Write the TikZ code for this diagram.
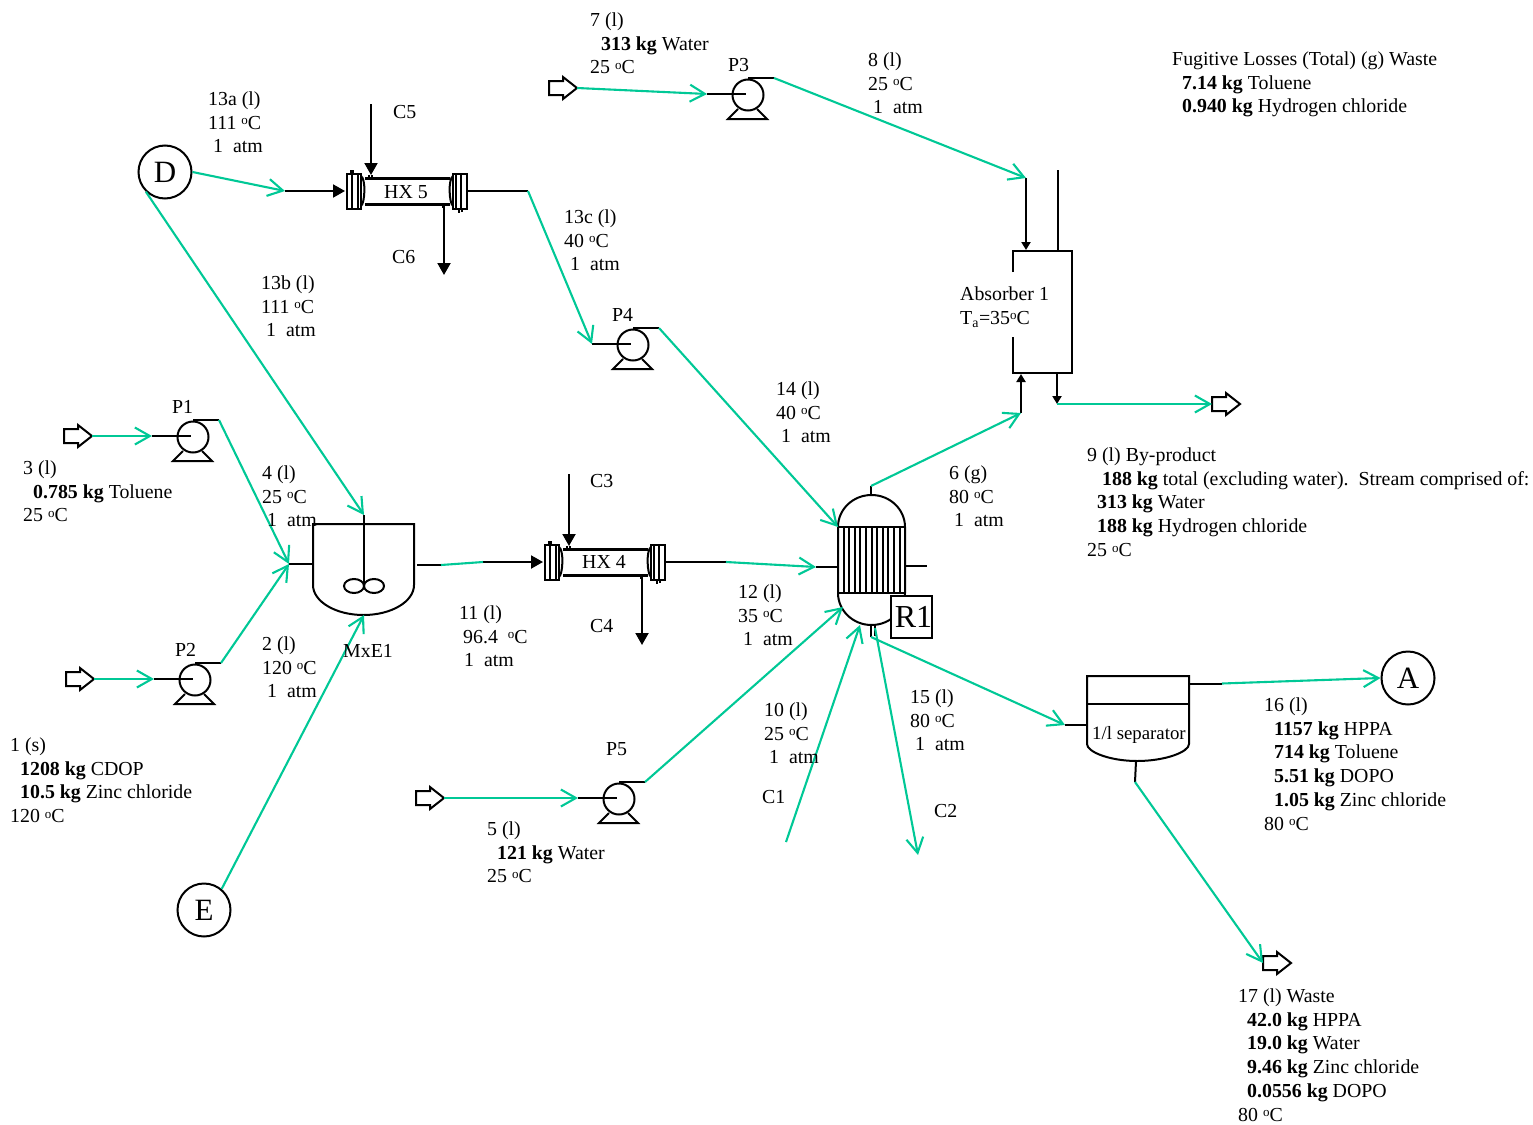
\documentclass[tikz,border=0pt]{standalone}
\usepackage{fontspec}
\setmainfont{Liberation Serif}
\usetikzlibrary{arrows.meta}
\definecolor{strm}{RGB}{0,200,150}
\newcommand{\dgc}{\raisebox{.5ex}{\fontsize{13}{13}\selectfont o}C}
\newcommand{\ind}[1]{\hspace*{#1pt}}
\newcommand{\atm}{1\ \ atm}
\tikzset{
  x=1pt,y=-1pt,
  txt/.style={anchor=north west,inner sep=0pt,align=left,font=\fontsize{19.85}{23.8}\selectfont,yshift=10.5pt},
  eq/.style={line width=2pt,black},
  thin eq/.style={line width=1.2pt,black},
  feed/.style={line width=2.1pt,strm,-{Straight Barb[length=15pt,width=17pt,line width=2.1pt]}},
  plain/.style={line width=2.1pt,strm},
  solid arrow/.style={line width=2pt,black,-{Triangle[length=12pt,width=13pt]}},
  small arrow/.style={line width=2pt,black,-{Triangle[length=8pt,width=9pt]}},
  ball/.style={circle,draw,line width=2pt,minimum size=53pt,inner sep=0pt,font=\fontsize{31}{31}\selectfont},
  pics/pump/.style={code={
    \coordinate (-in) at (0,0);
    \coordinate (-out) at (67,-16);
    \draw[eq] (41,1) circle (15.5);
    \draw[eq] (0,0) -- (39,0);
    \draw[eq] (41,-16) -- (67,-16);
    \draw[eq] (31,15) -- (21,25) -- (60,25) -- (50,15);
  }},
  pics/hollow/.style={code={
    \coordinate (-tip) at (0,0);
    \coordinate (-tail) at (-28,0);
    \draw[eq,fill=white] (-28,-7) -- (-14,-7) -- (-14,-11) -- (0,0) -- (-14,11) -- (-14,7) -- (-28,7) -- cycle;
  }},
  pics/hx/.style={code={
    \coordinate (-in) at (-2,0);
    \coordinate (-out) at (120,0);
    \draw[line width=2.2pt] (18,-12.5) -- (103,-12.5) (18,13.5) -- (103,13.5);
    \draw[eq] (0,-17) rectangle (14,18);
    \draw[eq] (5,-17) -- (5,18);
    \draw[eq] (11,-17) -- (11,18);
    \draw[eq] (14,-15) .. controls (19,-12) and (18,12) .. (14,15);
    \draw[eq] (106,-17) rectangle (120,18);
    \draw[eq] (109,-17) -- (109,18);
    \draw[eq] (114,-17) -- (114,18);
    \draw[eq] (106,-15) .. controls (101,-12) and (102,12) .. (106,15);
    \draw[thin eq] (4,-17) -- (4,-21) (6,-17) -- (6,-21);
    \draw[thin eq] (22,-13) -- (22,-16) (25,-13) -- (25,-16);
    \draw[thin eq] (96,14) -- (96,17);
    \draw[thin eq] (112,18) -- (112,22) (115,18) -- (115,21);
  }},
}
\newcommand{\tx}[4]{\node[txt] (#1) at (#2,#3) {\strut #4};}
\begin{document}
\begin{tikzpicture}
\useasboundingbox (0,0) rectangle (1533,1124);

% ---------- equipment ----------
\pic (P1) at (152,436) {pump};
\pic (P2) at (154,679) {pump};
\pic (P3) at (707,94) {pump};
\pic (P4) at (592,344) {pump};
\pic (P5) at (578,798) {pump};

\pic (H3) at (92,436) {hollow};
\pic (H2) at (94,679) {hollow};
\pic (H7) at (577,88) {hollow};
\pic (H5) at (444,798) {hollow};
\pic (H9) at (1240,404) {hollow};
\pic (H17) at (1291,963) {hollow};

\pic (HXf) at (347,191) {hx};
\pic (HXd) at (545,562) {hx};

% mixer
\coordinate (mxin) at (289,564);
\coordinate (mxinb) at (313,564);
\coordinate (mxoutb) at (417,565);
\coordinate (mxout) at (441,565);
\coordinate (mxtop) at (364,515);
\coordinate (mxbot) at (364,615);
\draw[eq] (313,524) -- (414,524) -- (414,585) arc[start angle=0,end angle=-180,x radius=50.5,y radius=-30] -- cycle;
\draw[eq] (mxtop) -- (364,586);
\draw[eq] (354,586) ellipse (10 and 7);
\draw[eq] (374,586) ellipse (10 and 7);
\draw[eq] (mxin) -- (mxinb);
\draw[eq] (mxoutb) -- (mxout);

% reactor
\coordinate (rtop) at (871,486);
\coordinate (rleft) at (816,567);
\coordinate (rshoulder) at (838,527);
\coordinate (rlow) at (843,607);
\coordinate (rbot) at (860,625);
\coordinate (rs1) at (871,637);
\coordinate (rs2) at (875,628);
\draw[eq] (838,527) arc[start angle=180,end angle=0,x radius=33.5,y radius=-32] -- (905,593) arc[start angle=0,end angle=-180,x radius=33.5,y radius=-32] -- cycle;
\draw[eq] (838,527) -- (905,527) (838,593) -- (905,593);
\foreach \i in {1,...,11}{\draw[line width=2pt] ({838+\i*5.6},527) -- ({838+\i*5.6},593);}
\draw[eq] (rtop) -- (871,495);
\draw[eq] (rleft) -- (838,567);
\draw[eq] (906,566) -- (927,566);
\draw[eq] (871,625) -- (rs1);
\draw[eq] (875,625) -- (875,636);
\node[draw,line width=2pt,fill=white,minimum width=41pt,minimum height=42pt,inner sep=0pt,font=\fontsize{32}{32}\selectfont] (R1) at (911.5,617) {\hspace*{4pt}\raisebox{-2pt}{R1}};

% separator
\coordinate (sepin) at (1065,725);
\coordinate (sepoutb) at (1222,683.5);
\coordinate (sepbot) at (1135,782);
\draw[eq] (1087,676) -- (1189,676) -- (1189,744) .. controls (1189,752) and (1165,761) .. (1137,761) .. controls (1110,761) and (1087,752) .. (1087,744) -- cycle;
\draw[eq] (1087,704) -- (1189,704);
\draw[eq] (sepin) -- (1087,725);
\draw[eq] (1189,683.5) -- (sepoutb);
\draw[eq] (1136,761) -- (sepbot);

% absorber
\coordinate (abin) at (1026,178);
\coordinate (abtopout) at (1058,170);
\coordinate (abbotin) at (1021,413);
\coordinate (abbotout) at (1057,404);
\draw[eq] (1013,272) -- (1013,251) -- (1072,251) -- (1072,373) -- (1013,373) -- (1013,337);
\draw[small arrow] (abin) -- (1026,250);
\draw[eq] (abtopout) -- (1058,251);
\draw[small arrow] (abbotin) -- (1021,374);
\draw[small arrow] (1057,373) -- (abbotout);

% heat exchanger black lines
\coordinate (hxfa) at (285,191);
\coordinate (hxfb) at (528,191);
\coordinate (hxda) at (483,562);
\coordinate (hxdb) at (726,562);
\coordinate (c5) at (371,104);
\coordinate (c5e) at (371,175);
\coordinate (c6s) at (444,205);
\coordinate (c6) at (444,275);
\coordinate (c3) at (569,474);
\coordinate (c3e) at (569,546);
\coordinate (c4s) at (642,576);
\coordinate (c4) at (642,645);
\draw[solid arrow] (hxfa) -- (HXf-in);
\draw[eq] (HXf-out) -- (hxfb);
\draw[solid arrow] (hxda) -- (HXd-in);
\draw[eq] (HXd-out) -- (hxdb);
\draw[solid arrow] (c5) -- (c5e);
\draw[solid arrow] (c6s) -- (c6);
\draw[solid arrow] (c3) -- (c3e);
\draw[solid arrow] (c4s) -- (c4);

% balls
\node[ball] (D) at (165,172) {D};
\node[ball] (E) at (204,910) {E};
\node[ball] (A) at (1408,678) {A};

% ---------- streams ----------
\coordinate (c1end) at (786,842);
\coordinate (c2end) at (918,855);
\draw[feed] (H3-tip) -- (P1-in);
\draw[feed] (H2-tip) -- (P2-in);
\draw[feed] (H7-tip) -- (P3-in);
\draw[feed] (H5-tip) -- (P5-in);
\draw[feed] (P1-out) -- (mxin);
\draw[feed] (P2-out) -- (mxin);
\draw[feed] (D.east) -- (hxfa);
\draw[feed] (D.226) -- (mxtop);
\draw[feed] (E.50) -- (mxbot);
\draw[plain] (mxout) -- (hxda);
\draw[feed] (hxdb) -- (rleft);
\draw[feed] (hxfb) -- (P4-in);
\draw[feed] (P4-out) -- (rshoulder);
\draw[feed] (rtop) -- (abbotin);
\draw[feed] (P3-out) -- (abin);
\draw[feed] (abbotout) -- (H9-tail);
\draw[feed] (P5-out) -- (rlow);
\draw[feed] (c1end) -- (rbot);
\draw[feed] (rs2) -- (c2end);
\draw[feed] (rs1) -- (sepin);
\draw[feed] (sepoutb) -- (A.west);
\draw[feed] (sepbot) -- (H17-tail);

% ---------- labels ----------
\tx{t7}{590}{20}{7 (l)\\\ind{11}\textbf{313 kg} Water\\25 \dgc}
\tx{t8}{868}{60}{8 (l)\\25 \dgc\\\ind{5}\atm}
\tx{tF}{1172}{59}{Fugitive Losses (Total) (g) Waste\\\ind{10}\textbf{7.14 kg} Toluene\\\ind{10}\textbf{0.940 kg} Hydrogen chloride}
\tx{t13a}{208}{99}{13a (l)\\111 \dgc\\\ind{5}\atm}
\tx{t13c}{564}{217}{13c (l)\\40 \dgc\\\ind{6}\atm}
\tx{t13b}{261}{283}{13b (l)\\111 \dgc\\\ind{5}\atm}
\tx{t14}{776}{389}{14 (l)\\40 \dgc\\\ind{5}\atm}
\tx{t3}{23}{468}{3 (l)\\\ind{10}\textbf{0.785 kg} Toluene\\25 \dgc}
\tx{t4}{262}{473}{4 (l)\\25 \dgc\\\ind{5}\atm}
\tx{t6}{949}{473}{6 (g)\\80 \dgc\\\ind{5}\atm}
\tx{tAb}{960}{294}{Absorber 1\\T\textsubscript{a}=35\dgc}
\tx{t9}{1087}{455}{9 (l) By-product\\\ind{15}\textbf{188 kg} total (excluding water).\ \ Stream comprised of:\\\ind{10}\textbf{313 kg} Water\\\ind{10}\textbf{188 kg} Hydrogen chloride\\25 \dgc}
\tx{t11}{459}{613}{11 (l)\\\ind{4}96.4\ \ \dgc\\\ind{5}\atm}
\tx{t12}{738}{592}{12 (l)\\35 \dgc\\\ind{5}\atm}
\tx{t2}{262}{644}{2 (l)\\120 \dgc\\\ind{5}\atm}
\tx{t1}{10}{745}{1 (s)\\\ind{10}\textbf{1208 kg} CDOP\\\ind{10}\textbf{10.5 kg} Zinc chloride\\120 \dgc}
\tx{t10}{764}{710}{10 (l)\\25 \dgc\\\ind{5}\atm}
\tx{t15}{910}{697}{15 (l)\\80 \dgc\\\ind{5}\atm}
\tx{t16}{1264}{705}{16 (l)\\\ind{10}\textbf{1157 kg} HPPA\\\ind{10}\textbf{714 kg} Toluene\\\ind{10}\textbf{5.51 kg} DOPO\\\ind{10}\textbf{1.05 kg} Zinc chloride\\80 \dgc}
\tx{t5}{487}{829}{5 (l)\\\ind{10}\textbf{121 kg} Water\\25 \dgc}
\tx{t17}{1238}{996}{17 (l) Waste\\\ind{9}\textbf{42.0 kg} HPPA\\\ind{9}\textbf{19.0 kg} Water\\\ind{9}\textbf{9.46 kg} Zinc chloride\\\ind{9}\textbf{0.0556 kg} DOPO\\80 \dgc}
\tx{tC5}{393}{112}{C5}
\tx{tC6}{392}{257}{C6}
\tx{tC3}{590}{481}{C3}
\tx{tC4}{590}{626}{C4}
\tx{tC1}{762}{797}{C1}
\tx{tC2}{934}{811}{C2}
\tx{tP1}{172}{407}{P1}
\tx{tP2}{175}{650}{P2}
\tx{tP3}{728}{65}{P3}
\tx{tP4}{612}{315}{P4}
\tx{tP5}{606}{749}{P5}
\tx{tMx}{343}{651}{MxE1}
\tx{tHX5}{384}{192}{HX 5}
\tx{tHX4}{582}{562}{HX 4}
\node[txt,font=\fontsize{18.8}{23}\selectfont] (tSep) at (1092,734) {\strut 1/l separator};
\end{tikzpicture}
\end{document}
